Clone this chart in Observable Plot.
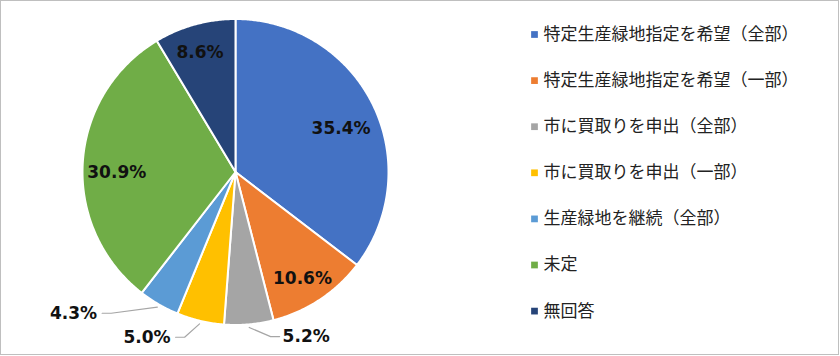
<!DOCTYPE html>
<html>
<head>
<meta charset="utf-8">
<script src="https://cdn.jsdelivr.net/npm/d3@7"></script>
<script src="https://cdn.jsdelivr.net/npm/@observablehq/plot@0.6"></script>
<style>
  html, body { margin: 0; padding: 0; background: #fff; }
  #wrap { position: relative; width: 840px; height: 356px; overflow: hidden; }
  #frame { position: absolute; left: 0; top: 0; width: 837px; height: 353px; border: 1px solid #bfbfbf; pointer-events: none; }
</style>
</head>
<body>
<div id="wrap"><div id="chart"></div><div id="frame"></div></div>
<script>
// ---- data ----
const categories = [
  "特定生産緑地指定を希望（全部）",
  "特定生産緑地指定を希望（一部）",
  "市に買取りを申出（全部）",
  "市に買取りを申出（一部）",
  "生産緑地を継続（全部）",
  "未定",
  "無回答"
];
const values = [35.4, 10.6, 5.2, 5.0, 4.3, 30.9, 8.6];
const colors = ["#4472C4", "#ED7D31", "#A5A5A5", "#FFC000", "#5B9BD5", "#70AD47", "#264478"];

// ---- layout (pixels / polar tweaks, not data) ----
const W = 840, H = 356;
const CX = 235, CY = 171.5, R = 153;
// label placement: radius factor and angle nudge (deg); outside labels have a side
const labelLayout = [
  {r: 0.746, da: 3.9},
  {r: 0.822, da: 1.3},
  {r: 1.10, da: -7, side: "right"},
  {r: 1.13, da: 3.8, side: "left"},
  {r: 1.23, da: 11.3, side: "left"},
  {r: 0.776, da: -3.5},
  {r: 0.817, da: -1}
];
const legendX = 534, legendTextX = 543, legendY0 = 34, legendStep = 46.1;

const px = p => (p - CX) / R;
const py = p => (CY - p) / R;

const total = d3.sum(values);
let cum = 0;
const slices = categories.map((c, i) => {
  const a0 = cum / total * 2 * Math.PI;
  cum += values[i];
  const a1 = cum / total * 2 * Math.PI;
  return {c, i, v: values[i], a0, a1, mid: (a0 + a1) / 2};
});

// polygon points for each slice
const slicePts = slices.flatMap(s => {
  const n = Math.max(2, Math.ceil((s.a1 - s.a0) / (Math.PI / 360)));
  const arr = [{c: s.c, x: 0, y: 0}];
  for (let k = 0; k <= n; k++) {
    const a = s.a0 + (s.a1 - s.a0) * k / n;
    arr.push({c: s.c, x: Math.sin(a), y: Math.cos(a)});
  }
  return arr;
});

const fmt = v => v.toFixed(1) + "%";
const labels = slices.map(s => {
  const L = labelLayout[s.i];
  const a = s.mid + L.da * Math.PI / 180;
  return {c: s.c, text: fmt(s.v), side: L.side || "inside", x: L.r * Math.sin(a), y: L.r * Math.cos(a), mid: s.mid};
});
const inside = labels.filter(d => d.side === "inside");
const rightL = labels.filter(d => d.side === "right");
const leftL = labels.filter(d => d.side === "left");
const leaders = labels.filter(d => d.side !== "inside").flatMap(d => {
  const sgn = d.side === "right" ? 1 : -1;
  return [
    {c: d.c, x: 1.02 * Math.sin(d.mid), y: 1.02 * Math.cos(d.mid)},
    {c: d.c, x: d.x, y: d.y},
    {c: d.c, x: d.x + sgn * 9 / R, y: d.y}
  ];
});

const legend = categories.map((c, i) => ({c, x: px(legendX), tx: px(legendTextX), y: py(legendY0 + i * legendStep)}));

const pctFont = {fontFamily: "DejaVu Sans, Verdana, sans-serif", fontSize: 17, fontWeight: "bold", fill: "#111"};

const chart = Plot.plot({
  width: W, height: H,
  marginTop: 0, marginRight: 0, marginBottom: 0, marginLeft: 0,
  x: {domain: [px(0), px(W)], axis: null},
  y: {domain: [py(H), py(0)], axis: null},
  color: {domain: categories, range: colors},
  style: {background: "white", overflow: "visible"},
  marks: [
    Plot.line(slicePts, {x: "x", y: "y", z: "c", fill: "c", stroke: "white", strokeWidth: 2, strokeLinejoin: "round", curve: "linear-closed"}),
    Plot.line(leaders, {x: "x", y: "y", z: "c", stroke: "#a6a6a6", strokeWidth: 1.2, curve: "linear"}),
    Plot.text(inside, {x: "x", y: "y", text: "text", ...pctFont}),
    Plot.text(rightL, {x: "x", y: "y", text: "text", textAnchor: "start", dx: 12, ...pctFont}),
    Plot.text(leftL, {x: "x", y: "y", text: "text", textAnchor: "end", dx: -14, ...pctFont}),
    Plot.dot(legend, {x: "x", y: "y", fill: "c", symbol: "square", r: 3.8, stroke: null}),
    Plot.text(legend, {x: "tx", y: "y", text: "c", textAnchor: "start", fontFamily: "Noto Sans CJK JP, sans-serif", fontSize: 17, fill: "#222"})
  ]
});
document.getElementById("chart").appendChild(chart);
</script>
</body>
</html>
